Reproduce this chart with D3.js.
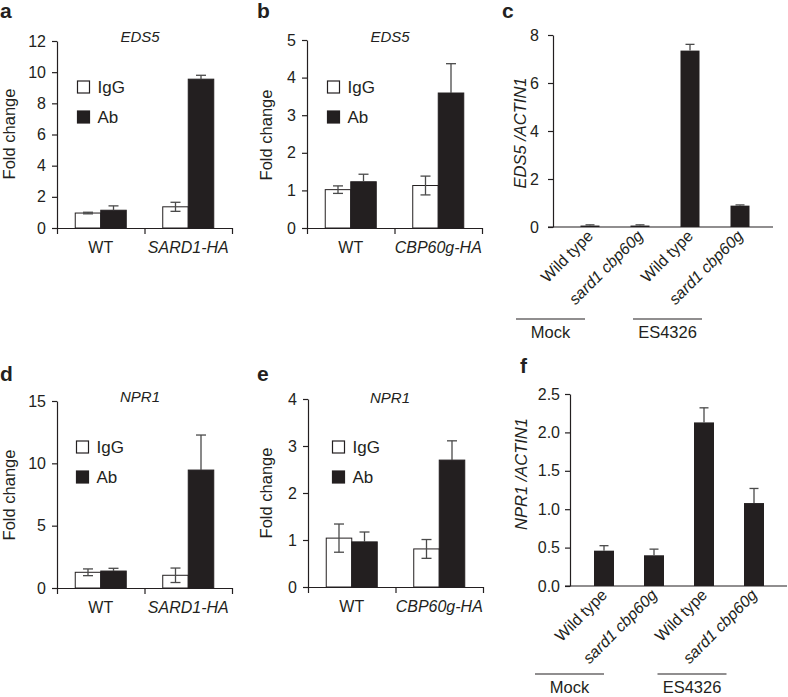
<!DOCTYPE html>
<html><head><meta charset="utf-8">
<script src="https://cdn.jsdelivr.net/npm/d3@7"></script>
<style>
body{margin:0;background:#fff}
text{font-family:"Liberation Sans",Arial,Helvetica,sans-serif;fill:#231f20}
</style>
</head><body>
<svg id="chart" width="788" height="697"></svg>
<script>
// ---------------- DATA ----------------
const seriesNames = ["IgG", "Ab"];

// a: EDS5 ChIP, SARD1-HA
const aGroups = ["WT", "SARD1-HA"];
const aIgG = [0.96, 1.36], aIgGErr = [0.05, 0.29];
const aAb = [1.14, 9.55], aAbErr = [0.28, 0.25];
const aTicks = [0, 2, 4, 6, 8, 10, 12];

// b: EDS5 ChIP, CBP60g-HA
const bGroups = ["WT", "CBP60g-HA"];
const bIgG = [1.02, 1.13], bIgGErr = [0.1, 0.25];
const bAb = [1.23, 3.59], bAbErr = [0.2, 0.78];
const bTicks = [0, 1, 2, 3, 4, 5];

// c: EDS5 / ACTIN1 expression
const cCats = ["Wild type", "sard1 cbp60g", "Wild type", "sard1 cbp60g"];
const cVals = [0.06, 0.06, 7.35, 0.89], cErr = [0.03, 0.03, 0.26, 0.03];
const cTicks = [0, 2, 4, 6, 8];

// d: NPR1 ChIP, SARD1-HA
const dGroups = ["WT", "SARD1-HA"];
const dIgG = [1.26, 1.02], dIgGErr = [0.27, 0.58];
const dAb = [1.36, 9.46], dAbErr = [0.22, 2.81];
const dTicks = [0, 5, 10, 15];

// e: NPR1 ChIP, CBP60g-HA
const eGroups = ["WT", "CBP60g-HA"];
const eIgG = [1.04, 0.81], eIgGErr = [0.3, 0.2];
const eAb = [0.96, 2.7], eAbErr = [0.21, 0.41];
const eTicks = [0, 1, 2, 3, 4];

// f: NPR1 / ACTIN1 expression
const fCats = ["Wild type", "sard1 cbp60g", "Wild type", "sard1 cbp60g"];
const fVals = [0.46, 0.4, 2.13, 1.08], fErr = [0.065, 0.08, 0.19, 0.19];
const fTicks = [0, 0.5, 1.0, 1.5, 2.0, 2.5];

const treatments = ["Mock", "ES4326"];

// ---------------- STYLE ----------------
const INK = "#231f20";
const ERR = "#4a4a4a";
const svg = d3.select("#chart");

function panelLetter(t, x, y) {
  svg.append("text").attr("x", x).attr("y", y).attr("font-size", 21)
    .attr("font-weight", "bold").text(t);
}

function styleAxis(g) {
  g.selectAll("path,line").attr("stroke", INK).attr("stroke-width", 1.2);
  g.selectAll("text").attr("font-size", 16).attr("fill", INK)
    .style("font-family", '"Liberation Sans",Arial,Helvetica,sans-serif');
}

function errBar(g, x, y1, y2, cap, both) {
  g.append("line").attr("x1", x).attr("x2", x).attr("y1", y1).attr("y2", y2)
    .attr("stroke", ERR).attr("stroke-width", 1.3);
  g.append("line").attr("x1", x - cap / 2).attr("x2", x + cap / 2).attr("y1", y2).attr("y2", y2)
    .attr("stroke", ERR).attr("stroke-width", 1.3);
  if (both) g.append("line").attr("x1", x - cap / 2).attr("x2", x + cap / 2).attr("y1", y1).attr("y2", y1)
    .attr("stroke", ERR).attr("stroke-width", 1.3);
}

// grouped (IgG / Ab) ChIP panel
function grouped(L, groups, igg, iggErr, ab, abErr, ticks, title) {
  const g = svg.append("g");
  const y = d3.scaleLinear().domain([0, d3.max(ticks)]).range([L.y0, L.y1]);
  const xg = d3.scaleBand().domain(groups).range([L.x0, L.x1]).paddingInner(0.417).paddingOuter(0.2085);
  const xs = d3.scaleBand().domain(seriesNames).range([0, xg.bandwidth()]);

  // y axis
  const ya = g.append("g").attr("transform", `translate(${L.x0},0)`)
    .call(d3.axisLeft(y).tickValues(ticks).tickSize(5).tickSizeOuter(0).tickPadding(6).tickFormat(d3.format("d")));
  styleAxis(ya);
  // x axis with boundary ticks
  const xl = d3.scaleLinear().domain([0, groups.length]).range([L.x0, L.x1]);
  const xa = g.append("g").attr("transform", `translate(0,${L.y0})`)
    .call(d3.axisBottom(xl).tickValues(d3.range(groups.length + 1)).tickSize(6).tickSizeOuter(0).tickFormat(""));
  styleAxis(xa);

  const vals = [igg, ab], errs = [iggErr, abErr];
  seriesNames.forEach((s, si) => {
    groups.forEach((grp, gi) => {
      const bx = xg(grp) + xs(s), v = vals[si][gi], e = errs[si][gi];
      g.append("rect").attr("x", bx).attr("width", xs.bandwidth())
        .attr("y", y(v)).attr("height", y(0) - y(v))
        .attr("fill", si === 0 ? "#fff" : INK).attr("stroke", INK).attr("stroke-width", 1);
      const cx = bx + xs.bandwidth() / 2;
      if (si === 0) errBar(g, cx, y(v - e), y(v + e), 10, true);
      else errBar(g, cx, y(v), y(v + e), 10, false);
    });
  });
  // category labels
  groups.forEach((grp, gi) => {
    g.append("text").attr("x", xg(grp) + xg.bandwidth() / 2).attr("y", L.y0 + 25)
      .attr("text-anchor", "middle").attr("font-size", 16)
      .attr("font-style", gi === 0 ? "normal" : "italic").text(grp);
  });
  // title
  g.append("text").attr("x", L.tx).attr("y", L.ty).attr("text-anchor", "middle")
    .attr("font-size", 15).attr("font-style", "italic").text(title);
  // y label
  g.append("text").attr("transform", `translate(${L.lx},${L.ly}) rotate(-90)`)
    .attr("text-anchor", "middle").attr("font-size", 16.5).text("Fold change");
  // legend
  seriesNames.forEach((s, si) => {
    g.append("rect").attr("x", L.legX).attr("y", L.legY + si * 30).attr("width", 12).attr("height", 12)
      .attr("fill", si === 0 ? "#fff" : INK).attr("stroke", INK).attr("stroke-width", 1.2);
    g.append("text").attr("x", L.legX + 20).attr("y", L.legY + 12 + si * 30)
      .attr("font-size", 17).text(s);
  });
}

// expression panel (single series, rotated labels, treatment groups)
function expression(L, cats, vals, errs, ticks, fmt, ylab) {
  const g = svg.append("g");
  const y = d3.scaleLinear().domain([0, d3.max(ticks)]).range([L.y0, L.y1]);
  const idx = d3.range(cats.length);
  const x = d3.scaleBand().domain(idx).range([L.b0, L.b1]).paddingInner(L.pad).paddingOuter(L.pad / 2);

  const ya = g.append("g").attr("transform", `translate(${L.x0},0)`)
    .call(d3.axisLeft(y).tickValues(ticks).tickSize(5).tickSizeOuter(0).tickPadding(L.tp).tickFormat(d3.format(fmt)));
  styleAxis(ya);
  g.append("line").attr("x1", L.x0 - 5).attr("x2", L.x1).attr("y1", L.y0).attr("y2", L.y0)
    .attr("stroke", INK).attr("stroke-width", 1.2);

  idx.forEach(i => {
    const v = vals[i], e = errs[i];
    g.append("rect").attr("x", x(i)).attr("width", x.bandwidth())
      .attr("y", y(v)).attr("height", y(0) - y(v)).attr("fill", INK);
    const cx = x(i) + x.bandwidth() / 2;
    errBar(g, cx, y(v), y(v + e), 9, false);
    g.append("text").attr("transform", `translate(${cx + 4},${L.y0 + 10}) rotate(-45)`)
      .attr("text-anchor", "end").attr("font-size", 16)
      .attr("font-style", i % 2 === 1 ? "italic" : "normal").text(cats[i]);
  });

  treatments.forEach((t, ti) => {
    const c = x(ti * 2) + x.bandwidth() / 2 + L.tOff[ti];
    g.append("line").attr("x1", c - 34.5).attr("x2", c + 34.5).attr("y1", L.lineY).attr("y2", L.lineY)
      .attr("stroke", INK).attr("stroke-width", 1.2);
    g.append("text").attr("x", c).attr("y", L.lineY + 19).attr("text-anchor", "middle")
      .attr("font-size", 16.5).text(t);
  });

  g.append("text").attr("transform", `translate(${L.lx},${L.ly}) rotate(-90)`)
    .attr("text-anchor", "middle").attr("font-size", 16.5).attr("font-style", "italic").text(ylab);
}

// ---------------- LAYOUT ----------------
panelLetter("a", 0, 18);
panelLetter("b", 257, 18);
panelLetter("c", 502, 18);
panelLetter("d", 0, 381);
panelLetter("e", 257, 381);
panelLetter("f", 520, 373);

grouped({x0: 57, x1: 232, y0: 228, y1: 41, tx: 140, ty: 42, lx: 15, ly: 134, legX: 77.5, legY: 81},
  aGroups, aIgG, aIgGErr, aAb, aAbErr, aTicks, "EDS5");
grouped({x0: 307, x1: 482, y0: 228, y1: 40, tx: 390, ty: 42, lx: 272, ly: 135, legX: 327.5, legY: 81},
  bGroups, bIgG, bIgGErr, bAb, bAbErr, bTicks, "EDS5");
grouped({x0: 57, x1: 232, y0: 588, y1: 401, tx: 140, ty: 402, lx: 15, ly: 495, legX: 76.5, legY: 441},
  dGroups, dIgG, dIgGErr, dAb, dAbErr, dTicks, "NPR1");
grouped({x0: 308, x1: 483, y0: 587, y1: 399, tx: 390, ty: 403, lx: 272, ly: 493, legX: 332.5, legY: 441},
  eGroups, eIgG, eIgGErr, eAb, eAbErr, eTicks, "NPR1");

expression({x0: 553, x1: 773, y0: 227, y1: 35, b0: 565, b1: 765, pad: 0.62, tp: 9,
  lineY: 319, tOff: [-39.5, -22.5], lx: 526, ly: 133},
  cCats, cVals, cErr, cTicks, "d", "EDS5 /ACTIN1");
expression({x0: 570, x1: 787, y0: 586, y1: 394, b0: 579, b1: 779, pad: 0.6, tp: 5,
  lineY: 674, tOff: [-34.5, -12], lx: 527, ly: 474},
  fCats, fVals, fErr, fTicks, ".1f", "NPR1 /ACTIN1");
</script>
</body></html>
